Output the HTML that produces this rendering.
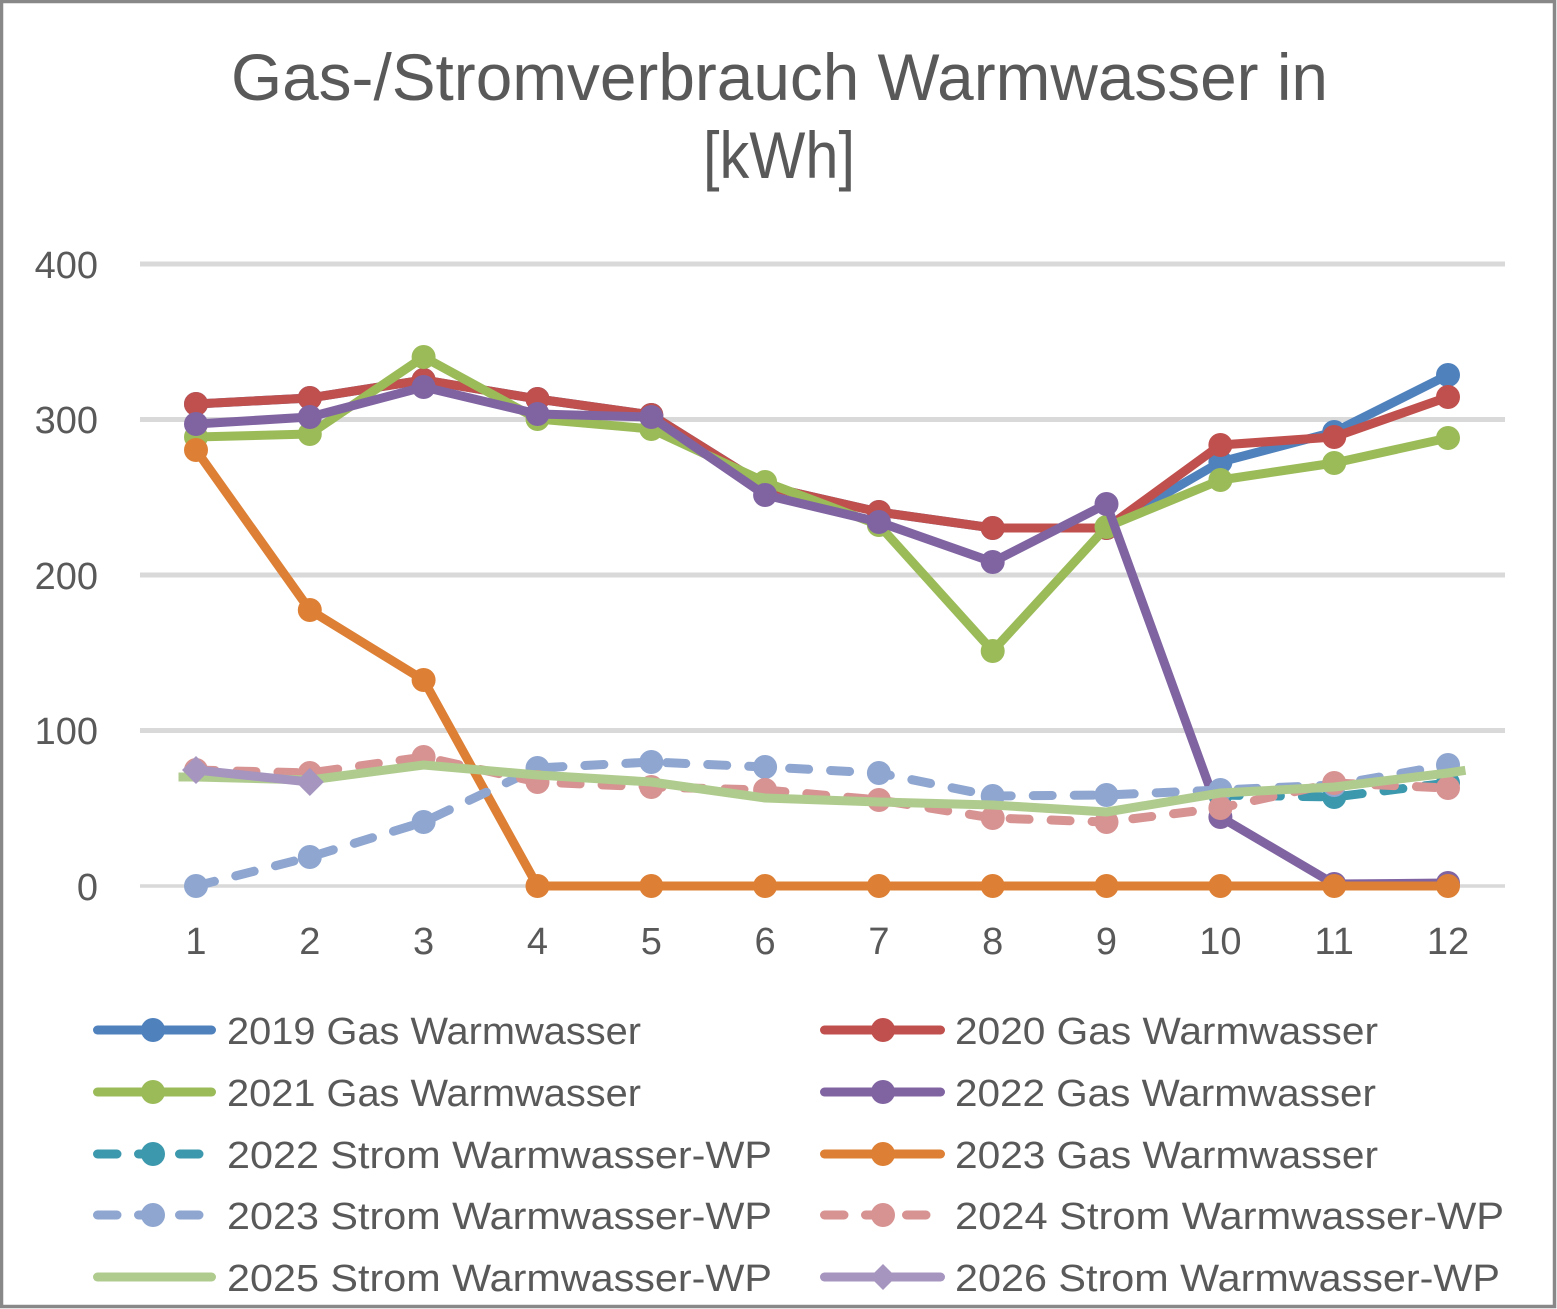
<!DOCTYPE html>
<html><head><meta charset="utf-8"><style>
html,body{margin:0;padding:0;background:#fff;}
svg{display:block;}
text{font-family:"Liberation Sans","DejaVu Sans",sans-serif;fill:#595959;}
</style></head><body>
<svg width="1557" height="1309" viewBox="0 0 1557 1309" xmlns="http://www.w3.org/2000/svg">
<rect x="0" y="0" width="1557" height="1309" fill="#fff"/>
<rect x="1.5" y="1.5" width="1553" height="1305" fill="none" stroke="#888" stroke-width="3.5"/>

<!-- title -->
<text x="231" y="100" font-size="66" textLength="1097" lengthAdjust="spacingAndGlyphs">Gas-/Stromverbrauch Warmwasser in</text>
<text x="703" y="178" font-size="66" textLength="152" lengthAdjust="spacingAndGlyphs">[kWh]</text>

<!-- gridlines -->
<g stroke="#d9d9d9">
<line x1="140" y1="264" x2="1505" y2="264" stroke-width="5"/>
<line x1="140" y1="419.5" x2="1505" y2="419.5" stroke-width="5"/>
<line x1="140" y1="575" x2="1505" y2="575" stroke-width="5"/>
<line x1="140" y1="730.5" x2="1505" y2="730.5" stroke-width="5"/>
<line x1="140" y1="886" x2="1505" y2="886" stroke-width="3.5"/>
</g>

<!-- y labels -->
<g font-size="38" text-anchor="end">
<text x="98" y="278">400</text>
<text x="98" y="433">300</text>
<text x="98" y="589">200</text>
<text x="98" y="744">100</text>
<text x="98" y="900">0</text>
</g>
<!-- x labels -->
<g font-size="38" text-anchor="middle">
<text x="196" y="954">1</text>
<text x="309.8" y="954">2</text>
<text x="423.6" y="954">3</text>
<text x="537.5" y="954">4</text>
<text x="651.3" y="954">5</text>
<text x="765.1" y="954">6</text>
<text x="878.9" y="954">7</text>
<text x="992.7" y="954">8</text>
<text x="1106.5" y="954">9</text>
<text x="1220.4" y="954">10</text>
<text x="1334.2" y="954">11</text>
<text x="1448" y="954">12</text>
</g>

<g fill="none" stroke-width="9" stroke-linejoin="round" stroke-linecap="round">
<!-- 2019 blue -->
<polyline stroke="#4f81bd" points="196,404 309.8,398 423.6,380 537.5,399 651.3,415 765.1,486 878.9,512 992.7,528 1106.5,528 1220.4,462 1334.2,432 1448,375"/>
</g>
<g fill="#4f81bd">
<circle cx="196" cy="404" r="12"/><circle cx="309.8" cy="398" r="12"/><circle cx="423.6" cy="380" r="12"/><circle cx="537.5" cy="399" r="12"/><circle cx="651.3" cy="415" r="12"/><circle cx="765.1" cy="486" r="12"/><circle cx="878.9" cy="512" r="12"/><circle cx="992.7" cy="528" r="12"/><circle cx="1106.5" cy="528" r="12"/><circle cx="1220.4" cy="462" r="12"/><circle cx="1334.2" cy="432" r="12"/><circle cx="1448" cy="375" r="12"/>
</g>

<!-- 2020 red -->
<polyline fill="none" stroke-width="9" stroke-linejoin="round" stroke="#c0504d" points="196,404 309.8,398 423.6,380 537.5,399 651.3,415 765.1,486 878.9,512 992.7,528 1106.5,528 1220.4,445 1334.2,437 1448,397"/>
<g fill="#c0504d">
<circle cx="196" cy="404" r="12"/><circle cx="309.8" cy="398" r="12"/><circle cx="423.6" cy="380" r="12"/><circle cx="537.5" cy="399" r="12"/><circle cx="651.3" cy="415" r="12"/><circle cx="765.1" cy="486" r="12"/><circle cx="878.9" cy="512" r="12"/><circle cx="992.7" cy="528" r="12"/><circle cx="1106.5" cy="528" r="12"/><circle cx="1220.4" cy="445" r="12"/><circle cx="1334.2" cy="437" r="12"/><circle cx="1448" cy="397" r="12"/>
</g>

<!-- 2021 green -->
<polyline fill="none" stroke-width="9" stroke-linejoin="round" stroke="#9bbb59" points="196,437 309.8,434 423.6,357 537.5,419 651.3,429 765.1,482 878.9,525 992.7,651 1106.5,527 1220.4,480 1334.2,463 1448,438"/>
<g fill="#9bbb59">
<circle cx="196" cy="437" r="12"/><circle cx="309.8" cy="434" r="12"/><circle cx="423.6" cy="357" r="12"/><circle cx="537.5" cy="419" r="12"/><circle cx="651.3" cy="429" r="12"/><circle cx="765.1" cy="482" r="12"/><circle cx="878.9" cy="525" r="12"/><circle cx="992.7" cy="651" r="12"/><circle cx="1106.5" cy="527" r="12"/><circle cx="1220.4" cy="480" r="12"/><circle cx="1334.2" cy="463" r="12"/><circle cx="1448" cy="438" r="12"/>
</g>

<!-- 2022 purple -->
<polyline fill="none" stroke-width="9" stroke-linejoin="round" stroke="#8064a2" points="196,424 309.8,417 423.6,387 537.5,414 651.3,417 765.1,495 878.9,522 992.7,562 1106.5,504 1220.4,817 1334.2,884 1448,883"/>
<g fill="#8064a2">
<circle cx="196" cy="424" r="12"/><circle cx="309.8" cy="417" r="12"/><circle cx="423.6" cy="387" r="12"/><circle cx="537.5" cy="414" r="12"/><circle cx="651.3" cy="417" r="12"/><circle cx="765.1" cy="495" r="12"/><circle cx="878.9" cy="522" r="12"/><circle cx="992.7" cy="562" r="12"/><circle cx="1106.5" cy="504" r="12"/><circle cx="1220.4" cy="817" r="12"/><circle cx="1334.2" cy="884" r="12"/><circle cx="1448" cy="883" r="12"/>
</g>

<!-- 2022 Strom teal dashed -->
<polyline fill="none" stroke-width="9" stroke-linejoin="round" stroke-linecap="round" stroke-dasharray="19 22" stroke="#3c98ad" points="1220.4,795 1334.2,797 1448,783"/>
<g fill="#3c98ad">
<circle cx="1220.4" cy="795" r="12"/><circle cx="1334.2" cy="797" r="12"/><circle cx="1448" cy="783" r="12"/>
</g>

<!-- 2023 orange -->
<polyline fill="none" stroke-width="9" stroke-linejoin="round" stroke="#dd8035" points="196,450 309.8,610 423.6,680 537.5,886 651.3,886 765.1,886 878.9,886 992.7,886 1106.5,886 1220.4,886 1334.2,886 1448,886"/>
<g fill="#dd8035">
<circle cx="196" cy="450" r="12"/><circle cx="309.8" cy="610" r="12"/><circle cx="423.6" cy="680" r="12"/><circle cx="537.5" cy="886" r="12"/><circle cx="651.3" cy="886" r="12"/><circle cx="765.1" cy="886" r="12"/><circle cx="878.9" cy="886" r="12"/><circle cx="992.7" cy="886" r="12"/><circle cx="1106.5" cy="886" r="12"/><circle cx="1220.4" cy="886" r="12"/><circle cx="1334.2" cy="886" r="12"/><circle cx="1448" cy="886" r="12"/>
</g>

<!-- 2023 Strom light blue dashed -->
<polyline fill="none" stroke-width="9" stroke-linejoin="round" stroke-linecap="round" stroke-dasharray="19 22" stroke="#8ea6d0" points="196,886 309.8,857 423.6,822 537.5,768 651.3,762 765.1,767 878.9,773 992.7,796 1106.5,795 1220.4,790 1334.2,785 1448,765"/>
<g fill="#8ea6d0">
<circle cx="196" cy="886" r="12"/><circle cx="309.8" cy="857" r="12"/><circle cx="423.6" cy="822" r="12"/><circle cx="537.5" cy="768" r="12"/><circle cx="651.3" cy="762" r="12"/><circle cx="765.1" cy="767" r="12"/><circle cx="878.9" cy="773" r="12"/><circle cx="992.7" cy="796" r="12"/><circle cx="1106.5" cy="795" r="12"/><circle cx="1220.4" cy="790" r="12"/><circle cx="1334.2" cy="785" r="12"/><circle cx="1448" cy="765" r="12"/>
</g>

<!-- 2024 Strom pink dashed -->
<polyline fill="none" stroke-width="9" stroke-linejoin="round" stroke-linecap="round" stroke-dasharray="19 22" stroke="#d79292" points="196,770 309.8,773 423.6,757 537.5,782 651.3,787 765.1,790 878.9,800 992.7,818 1106.5,822 1220.4,808 1334.2,783 1448,788"/>
<g fill="#d79292">
<circle cx="196" cy="770" r="12"/><circle cx="309.8" cy="773" r="12"/><circle cx="423.6" cy="757" r="12"/><circle cx="537.5" cy="782" r="12"/><circle cx="651.3" cy="787" r="12"/><circle cx="765.1" cy="790" r="12"/><circle cx="878.9" cy="800" r="12"/><circle cx="992.7" cy="818" r="12"/><circle cx="1106.5" cy="822" r="12"/><circle cx="1220.4" cy="808" r="12"/><circle cx="1334.2" cy="783" r="12"/><circle cx="1448" cy="788" r="12"/>
</g>

<!-- 2025 Strom light green -->
<polyline fill="none" stroke-width="9" stroke-linejoin="round" stroke-linecap="square" stroke="#b0cb8e" points="183,777 196,777 309.8,780 423.6,765 537.5,775 651.3,782 765.1,798 878.9,802 992.7,805 1106.5,812 1220.4,793 1334.2,787 1448,773 1461,771"/>

<!-- 2026 Strom light purple -->
<polyline fill="none" stroke-width="9" stroke-linejoin="round" stroke="#a595bf" points="196,770 309.8,782"/>
<g fill="#a595bf">
<polygon points="196,756 210,770 196,784 182,770"/>
<polygon points="309.8,768 323.8,782 309.8,796 295.8,782"/>
</g>

<!-- legend -->
<g fill="none" stroke-width="9" stroke-linecap="round">
<line x1="97.5" y1="1030" x2="211.5" y2="1030" stroke="#4f81bd"/>
<line x1="97.5" y1="1092" x2="211.5" y2="1092" stroke="#9bbb59"/>
<line x1="97.5" y1="1154" x2="211.5" y2="1154" stroke="#3c98ad" stroke-dasharray="19.5 21.5"/>
<line x1="97.5" y1="1215" x2="211.5" y2="1215" stroke="#8ea6d0" stroke-dasharray="19.5 21.5"/>
<line x1="97.5" y1="1277" x2="211.5" y2="1277" stroke="#b0cb8e"/>
<line x1="824.5" y1="1030" x2="940.5" y2="1030" stroke="#c0504d"/>
<line x1="824.5" y1="1092" x2="940.5" y2="1092" stroke="#8064a2"/>
<line x1="824.5" y1="1154" x2="940.5" y2="1154" stroke="#dd8035"/>
<line x1="824.5" y1="1215" x2="940.5" y2="1215" stroke="#d79292" stroke-dasharray="19.5 21.5"/>
<line x1="824.5" y1="1277" x2="940.5" y2="1277" stroke="#a595bf"/>
</g>
<circle cx="153" cy="1030" r="12" fill="#4f81bd"/>
<circle cx="153" cy="1092" r="12" fill="#9bbb59"/>
<circle cx="153" cy="1154" r="12" fill="#3c98ad"/>
<circle cx="153" cy="1215" r="12" fill="#8ea6d0"/>
<circle cx="883" cy="1030" r="12" fill="#c0504d"/>
<circle cx="883" cy="1092" r="12" fill="#8064a2"/>
<circle cx="883" cy="1154" r="12" fill="#dd8035"/>
<circle cx="883" cy="1215" r="12" fill="#d79292"/>
<polygon points="883,1264 896,1277 883,1290 870,1277" fill="#a595bf"/>

<g font-size="38">
<text x="227" y="1044" textLength="414" lengthAdjust="spacingAndGlyphs">2019 Gas Warmwasser</text>
<text x="227" y="1106" textLength="414" lengthAdjust="spacingAndGlyphs">2021 Gas Warmwasser</text>
<text x="227" y="1168" textLength="545" lengthAdjust="spacingAndGlyphs">2022 Strom Warmwasser-WP</text>
<text x="227" y="1229" textLength="545" lengthAdjust="spacingAndGlyphs">2023 Strom Warmwasser-WP</text>
<text x="227" y="1291" textLength="545" lengthAdjust="spacingAndGlyphs">2025 Strom Warmwasser-WP</text>
<text x="955" y="1044" textLength="423" lengthAdjust="spacingAndGlyphs">2020 Gas Warmwasser</text>
<text x="955" y="1106" textLength="421" lengthAdjust="spacingAndGlyphs">2022 Gas Warmwasser</text>
<text x="955" y="1168" textLength="423" lengthAdjust="spacingAndGlyphs">2023 Gas Warmwasser</text>
<text x="955" y="1229" textLength="549" lengthAdjust="spacingAndGlyphs">2024 Strom Warmwasser-WP</text>
<text x="955" y="1291" textLength="545" lengthAdjust="spacingAndGlyphs">2026 Strom Warmwasser-WP</text>
</g>
</svg>
</body></html>
